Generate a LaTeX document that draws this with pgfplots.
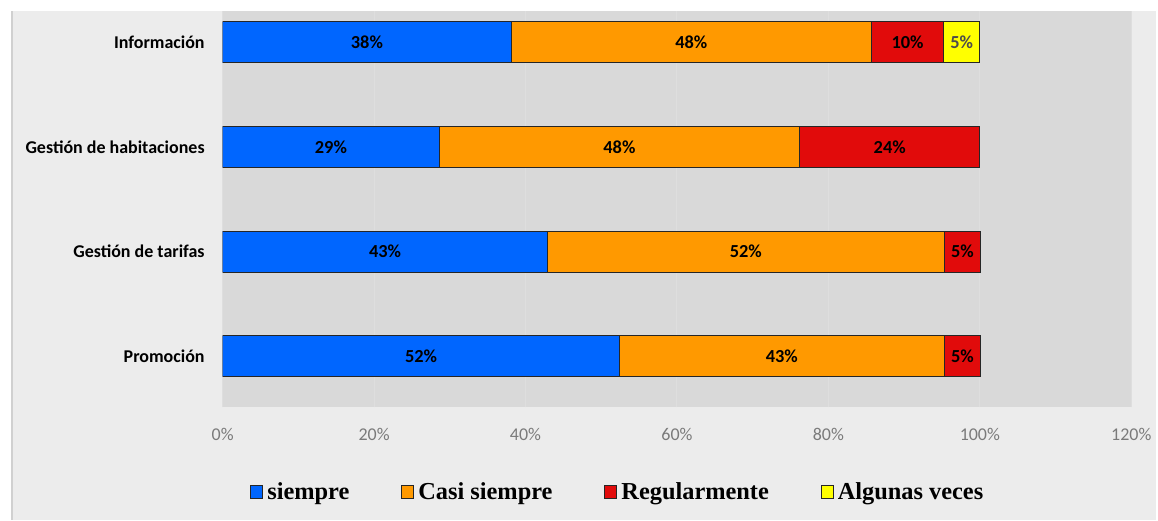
\documentclass[border=0pt]{standalone}
\usepackage{pgfplots}
\pgfplotsset{compat=1.18}
\usepackage{pgfplotstable}
\usepackage{fontspec}
\setmainfont{Carlito}
\newfontfamily\legfont{Liberation Serif}
\definecolor{cBlue}{HTML}{0066FF}
\definecolor{cOrange}{HTML}{FF9900}
\definecolor{cRed}{HTML}{E10B0B}
\definecolor{cYellow}{HTML}{FFFF00}
\definecolor{bgOuter}{HTML}{ECECEC}
\definecolor{bgPlot}{HTML}{D9D9D9}
\definecolor{gridc}{HTML}{DEDEDE}
\definecolor{edgec}{HTML}{D0D0D0}
\definecolor{tickc}{HTML}{7A7A7A}

\pgfplotstableread{
y v lab
3 38.1 38
2 28.6 29
1 42.9 43
0 52.4 52
}\siempre
\pgfplotstableread{
y v lab
3 47.6 48
2 47.6 48
1 52.4 52
0 42.9 43
}\casi
\pgfplotstableread{
y v lab
3 9.5 10
2 23.8 24
1 4.8 5
0 4.8 5
}\regular
\pgfplotstableread{
y v lab
3 4.8 5
}\algunas

\begin{document}
\begin{tikzpicture}
\fill[white] (0,0) rectangle (579pt,-260.5pt);
\fill[bgOuter] (5.5pt,-5.5pt) rectangle (579pt,-260.5pt);
\fill[edgec] (5.5pt,-5.5pt) rectangle (6.7pt,-260.5pt);
\begin{axis}[
  at={(111.5pt,-204pt)}, anchor=south west,
  scale only axis, width=455pt, height=198.5pt,
  xbar stacked, bar width=20.5pt,
  xmin=0, xmax=120, ymin=-0.49, ymax=3.3,
  xtick={0,20,...,120},
  ytick={0,1,2,3},
  yticklabels={Promoción, Gestión de tarifas, Gestión de habitaciones, Información},
  axis background/.style={fill=bgPlot},
  axis line style={draw=none},
  major tick length=0pt,
  xmajorgrids, grid style={gridc, line width=0.5pt},
  xticklabel={\pgfmathprintnumber{\tick}\%},
  /pgf/number format/assume math mode=true,
  xticklabel style={font=\fontsize{9}{10}\selectfont, text=tickc, yshift=-7pt},
  yticklabel style={font=\bfseries\fontsize{9}{10}\selectfont, xshift=-5.5pt},
  point meta=explicit symbolic,
  nodes near coords={\pgfplotspointmeta\%},
  every node near coord/.append style={font=\bfseries\fontsize{9.2}{10}\selectfont, text=black, anchor=center},
  legend columns=4,
  legend style={at={(0.436,-0.214)}, anchor=center, draw=none, fill=none,
    font=\legfont\bfseries\fontsize{12.2}{14}\selectfont,
    /tikz/every even column/.append style={column sep=24pt}},
  legend image code/.code={\draw[#1, line width=0.5pt] (-1.5pt,-3.25pt) rectangle (4.5pt,3.25pt);},
]
\addplot[fill=cBlue, draw=black!85, line width=0.5pt] table[x=v, y=y, meta=lab] {\siempre};
\addlegendentry{siempre}
\addplot[fill=cOrange, draw=black!85, line width=0.5pt] table[x=v, y=y, meta=lab] {\casi};
\addlegendentry{Casi siempre}
\addplot[fill=cRed, draw=black!85, line width=0.5pt] table[x=v, y=y, meta=lab] {\regular};
\addlegendentry{Regularmente}
\addplot[fill=cYellow, draw=black!85, line width=0.5pt, every node near coord/.append style={text=black!70}] table[x=v, y=y, meta=lab] {\algunas};
\addlegendentry{Algunas veces}
\end{axis}
\end{tikzpicture}
\end{document}
